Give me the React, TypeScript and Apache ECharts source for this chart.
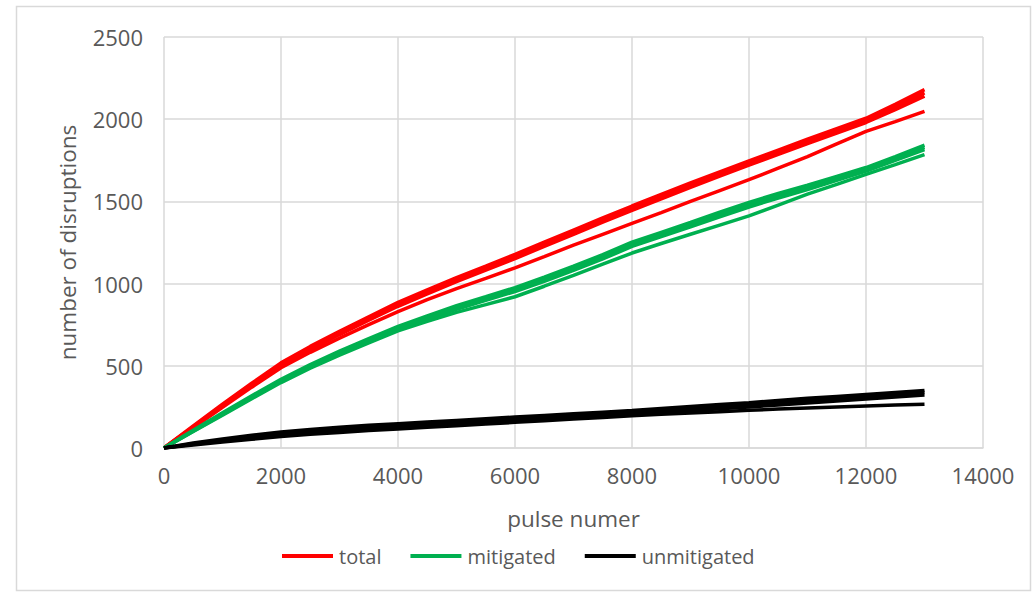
import React, { useEffect, useRef } from "react";
import * as echarts from "echarts";

// Pulse numbers at which the cumulative counts are sampled
const pulses = [
  0, 500, 1000, 1500, 2000, 2500, 3000, 3500, 4000, 4500, 5000, 5500, 6000,
  6500, 7000, 7500, 8000, 8500, 9000, 9500, 10000, 10500, 11000, 11500, 12000,
  12500, 13000,
];

// Total disruptions, four runs
const totalRunA = [0, 134, 266, 394, 518, 618, 710, 798, 886, 962, 1036, 1106, 1178, 1252, 1326, 1400, 1472, 1542, 1612, 1680, 1746, 1812, 1878, 1942, 2006, 2090, 2180];
const totalRunB = [0, 130, 260, 386, 508, 608, 700, 788, 874, 950, 1024, 1094, 1166, 1240, 1314, 1388, 1460, 1530, 1600, 1668, 1734, 1800, 1866, 1930, 1994, 2074, 2160];
const totalRunC = [0, 126, 254, 378, 498, 598, 690, 777, 862, 938, 1012, 1082, 1152, 1226, 1300, 1374, 1446, 1516, 1586, 1654, 1720, 1786, 1852, 1916, 1980, 2058, 2140];
const totalRunD = [0, 123, 248, 370, 488, 582, 668, 750, 830, 902, 970, 1032, 1096, 1164, 1234, 1300, 1366, 1432, 1500, 1566, 1632, 1702, 1772, 1850, 1926, 1985, 2048];

// Mitigated disruptions, four runs
const mitigatedRunA = [0, 108, 214, 318, 418, 508, 590, 666, 740, 804, 866, 920, 976, 1040, 1106, 1176, 1252, 1312, 1372, 1434, 1494, 1548, 1598, 1652, 1706, 1772, 1842];
const mitigatedRunB = [0, 105, 209, 312, 411, 500, 582, 657, 731, 794, 855, 910, 964, 1028, 1094, 1164, 1240, 1300, 1360, 1420, 1482, 1536, 1586, 1640, 1694, 1760, 1828];
const mitigatedRunC = [0, 102, 204, 305, 404, 492, 573, 648, 722, 784, 844, 898, 952, 1014, 1080, 1150, 1226, 1286, 1346, 1406, 1466, 1520, 1572, 1628, 1684, 1750, 1815];
const mitigatedRunD = [0, 100, 200, 300, 398, 485, 565, 640, 712, 770, 825, 872, 920, 984, 1050, 1118, 1186, 1244, 1300, 1356, 1412, 1478, 1544, 1604, 1664, 1724, 1785];

// Unmitigated disruptions, four runs
const unmitigatedRunA = [0, 30, 55, 78, 98, 113, 126, 138, 148, 158, 168, 178, 188, 198, 208, 218, 228, 240, 252, 264, 276, 289, 302, 314, 326, 338, 350];
const unmitigatedRunB = [0, 26, 49, 70, 88, 102, 114, 126, 136, 146, 156, 166, 176, 186, 196, 206, 216, 228, 240, 252, 264, 276, 288, 300, 312, 325, 338];
const unmitigatedRunC = [0, 22, 42, 61, 78, 92, 104, 115, 125, 135, 145, 155, 165, 175, 185, 195, 205, 216, 227, 238, 250, 262, 274, 286, 298, 310, 322];
const unmitigatedRunD = [0, 18, 36, 53, 70, 83, 95, 106, 116, 126, 136, 146, 156, 166, 176, 186, 196, 205, 213, 221, 229, 237, 244, 250, 256, 261, 266];

const groups = [
  { name: "total", color: "#FF0000", runs: [totalRunA, totalRunB, totalRunC, totalRunD] },
  { name: "mitigated", color: "#00B050", runs: [mitigatedRunA, mitigatedRunB, mitigatedRunC, mitigatedRunD] },
  { name: "unmitigated", color: "#000000", runs: [unmitigatedRunA, unmitigatedRunB, unmitigatedRunC, unmitigatedRunD] },
];

const FONT = "'Open Sans', 'Noto Sans', sans-serif";
const TEXT_COLOR = "#595959";
const GRID_COLOR = "#D9D9D9";

export default function App() {
  const ref = useRef<HTMLDivElement>(null);

  useEffect(() => {
    if (!ref.current) return;
    const chart = echarts.init(ref.current, null, { renderer: "svg" });

    const series: any[] = [];
    groups.forEach((g) => {
      g.runs.forEach((run) => {
        series.push({
          name: g.name,
          type: "line",
          showSymbol: false,
          symbol: "none",
          data: run.map((v, i) => [pulses[i], v]),
          lineStyle: { color: g.color, width: 3.5 },
          itemStyle: { color: g.color },
          emphasis: { disabled: true },
        });
      });
    });

    const plain = (v: number) => String(v);

    chart.setOption({
      animation: false,
      backgroundColor: "#FFFFFF",
      textStyle: { fontFamily: FONT },
      graphic: [
        {
          type: "rect",
          shape: { x: 16.5, y: 6.5, width: 1014, height: 584 },
          style: { fill: "none", stroke: GRID_COLOR, lineWidth: 1.5 },
          silent: true,
        },
      ],
      grid: { left: 164, right: 53, top: 37, bottom: 145, containLabel: false },
      xAxis: {
        type: "value",
        min: 0,
        max: 14000,
        interval: 2000,
        name: "pulse numer",
        nameLocation: "middle",
        nameGap: 59,
        nameTextStyle: { fontFamily: FONT, fontSize: 22.5, color: TEXT_COLOR },
        axisLine: { show: true, lineStyle: { color: GRID_COLOR, width: 1.5 } },
        axisTick: { show: false },
        axisLabel: { fontFamily: FONT, fontSize: 22, color: TEXT_COLOR, margin: 16, formatter: plain },
        splitLine: { show: true, lineStyle: { color: GRID_COLOR, width: 1.5 } },
      },
      yAxis: {
        type: "value",
        min: 0,
        max: 2500,
        interval: 500,
        name: "number of disruptions",
        nameLocation: "middle",
        nameGap: 85,
        nameTextStyle: { fontFamily: FONT, fontSize: 22.5, color: TEXT_COLOR },
        axisLine: { show: false },
        axisTick: { show: false },
        axisLabel: { fontFamily: FONT, fontSize: 22, color: TEXT_COLOR, margin: 21, formatter: plain },
        splitLine: { show: true, lineStyle: { color: GRID_COLOR, width: 1.5 } },
      },
      legend: {
        data: groups.map((g) => ({ name: g.name, icon: "rect", itemStyle: { color: g.color } })),
        left: 282,
        top: 546,
        padding: 0,
        itemWidth: 51,
        itemHeight: 4,
        itemGap: 29,
        selectedMode: false,
        textStyle: { fontFamily: FONT, fontSize: 20, color: TEXT_COLOR, padding: [0, 0, 0, 1] },
      },
      series,
    });

    return () => chart.dispose();
  }, []);

  return (
    <div
      ref={ref}
      style={{ position: "fixed", left: 0, top: 0, width: 1036, height: 593, background: "#fff" }}
    />
  );
}
